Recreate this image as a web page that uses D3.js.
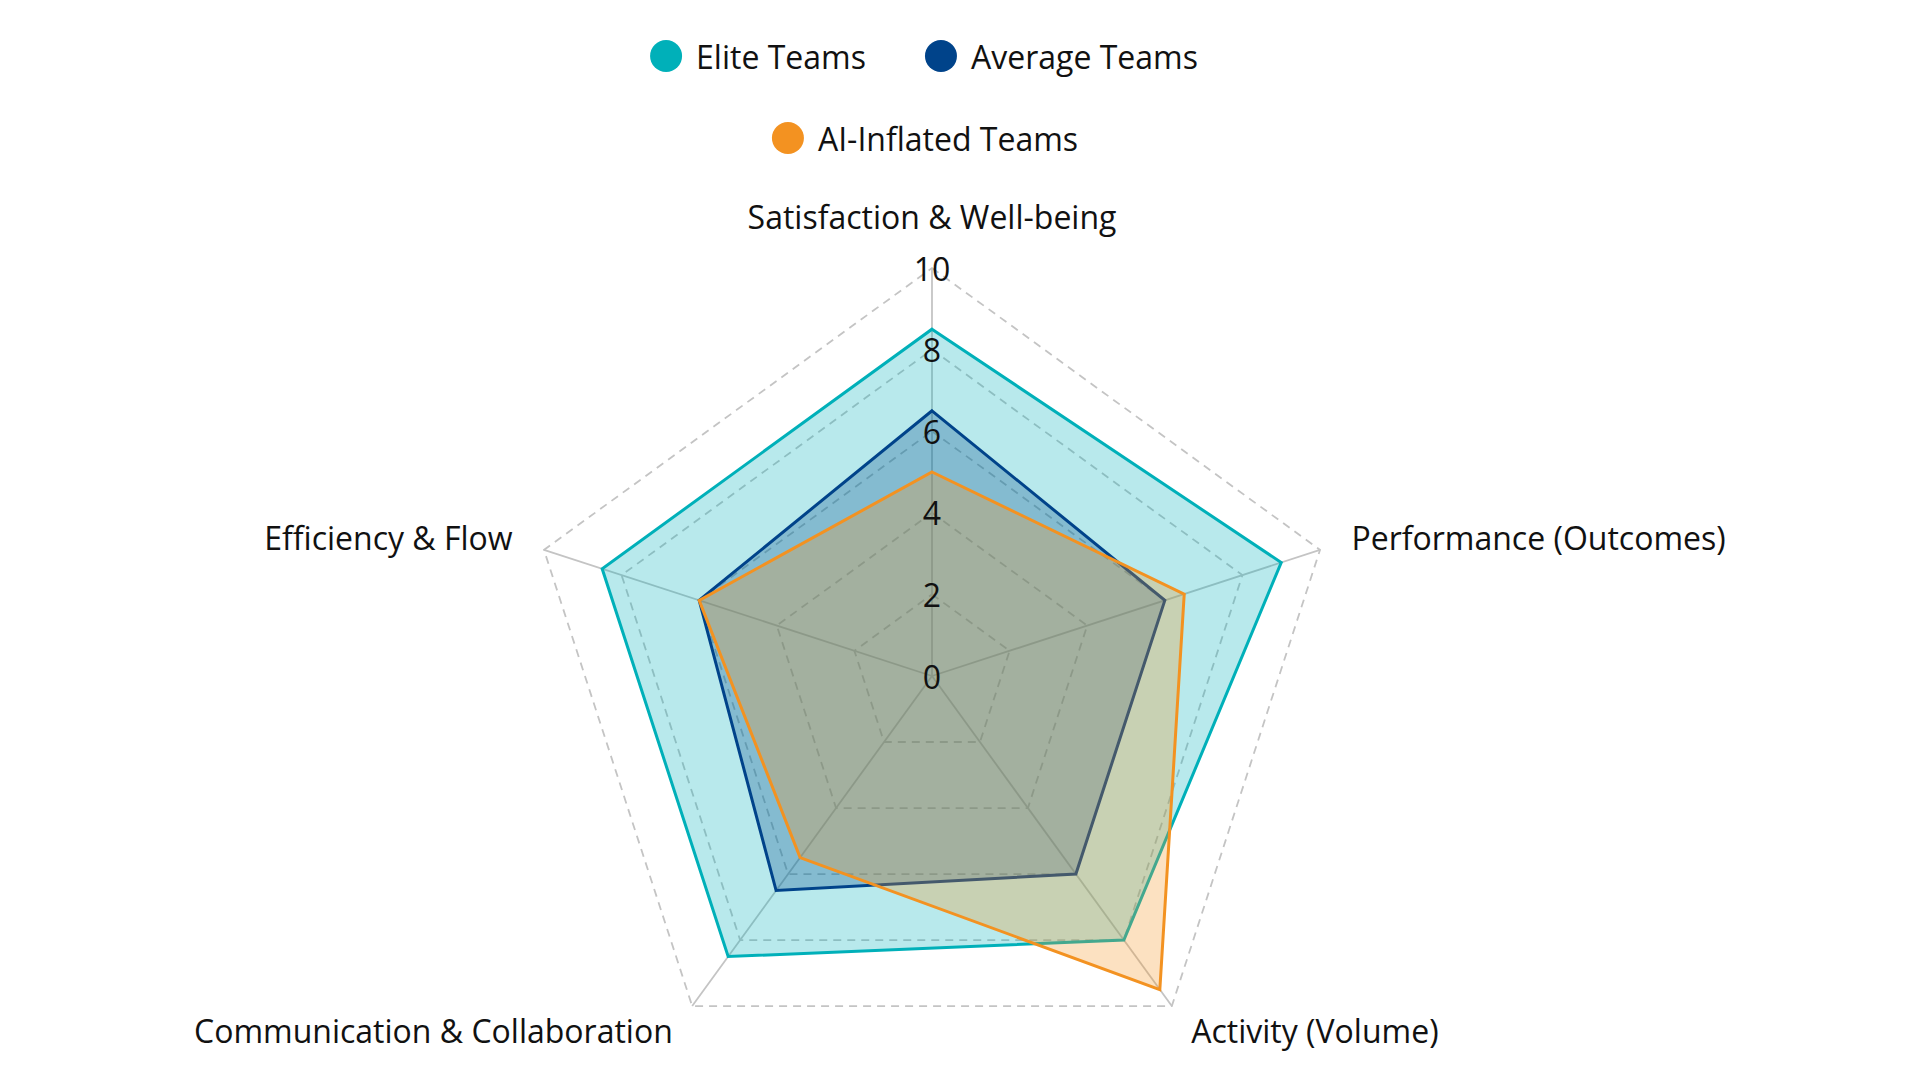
<!DOCTYPE html>
<html>
<head>
<meta charset="utf-8">
<script src="https://cdn.jsdelivr.net/npm/d3@7"></script>
<style>
  html, body { margin: 0; padding: 0; background: #fff; }
  #chart { width: 1920px; height: 1080px; }
  text { font-family: "Open Sans", "Noto Sans", sans-serif; fill: #111; }
</style>
</head>
<body>
<div id="chart"></div>
<script>
// axes, clockwise from the top
const axes = [
  "Satisfaction & Well-being",
  "Performance (Outcomes)",
  "Activity (Volume)",
  "Communication & Collaboration",
  "Efficiency & Flow",
];
const seriesNames = ["Elite Teams", "Average Teams", "AI-Inflated Teams"];
const eliteValues = [8.5, 9.0, 8.0, 8.5, 8.5];
const averageValues = [6.5, 6.0, 6.0, 6.5, 6.0];
const inflatedValues = [5.0, 6.5, 9.5, 5.5, 6.0];
const tickValues = [0, 2, 4, 6, 8, 10];
const seriesColors = ["#00b0b9", "#00438a", "#f39221"];

class RadarChart {
  constructor(_config) {
    this.config = {
      parentElement: _config.parentElement,
      containerWidth: 1920,
      containerHeight: 1080,
      cx: 932,
      cy: 676,
      radius: 408,
      labelPadding: 33,
      fontSize: 32,
    };
    this.initVis();
  }

  initVis() {
    let vis = this;

    vis.svg = d3
      .select(vis.config.parentElement)
      .append("svg")
      .attr("width", vis.config.containerWidth)
      .attr("height", vis.config.containerHeight);

    vis.chart = vis.svg
      .append("g")
      .attr("transform", `translate(${vis.config.cx},${vis.config.cy})`);

    vis.rScale = d3.scaleLinear().domain([0, 10]).range([0, vis.config.radius]);
    vis.angleScale = d3
      .scalePoint()
      .domain(axes)
      .range([0, 2 * Math.PI * (axes.length - 1) / axes.length]);

    vis.colorScale = d3.scaleOrdinal().domain(seriesNames).range(seriesColors);

    vis.line = d3
      .lineRadial()
      .angle((d, i) => vis.angleScale(axes[i]))
      .radius((d) => vis.rScale(d))
      .curve(d3.curveLinearClosed);
  }

  updateVis() {
    let vis = this;
    vis.series = [
      { name: seriesNames[0], values: eliteValues },
      { name: seriesNames[1], values: averageValues },
      { name: seriesNames[2], values: inflatedValues },
    ];
    vis.renderVis();
  }

  point(angle, r) {
    return [r * Math.sin(angle), -r * Math.cos(angle)];
  }

  renderVis() {
    let vis = this;
    const fs = vis.config.fontSize;

    // grid rings (dashed)
    vis.chart
      .selectAll(".ring")
      .data(tickValues.filter((d) => d > 0))
      .join("path")
      .attr("class", "ring")
      .attr("d", (t) => vis.line(axes.map(() => t)))
      .attr("fill", "none")
      .attr("stroke", "#c4c4c4")
      .attr("stroke-width", 1.8)
      .attr("stroke-dasharray", "8,6");

    // spokes
    vis.chart
      .selectAll(".spoke")
      .data(axes)
      .join("line")
      .attr("class", "spoke")
      .attr("x1", 0)
      .attr("y1", 0)
      .attr("x2", (d) => vis.point(vis.angleScale(d), vis.rScale(10))[0])
      .attr("y2", (d) => vis.point(vis.angleScale(d), vis.rScale(10))[1])
      .attr("stroke", "#c4c4c4")
      .attr("stroke-width", 1.8);

    // datasets
    vis.chart
      .selectAll(".area")
      .data(vis.series)
      .join("path")
      .attr("class", "area")
      .attr("d", (d) => vis.line(d.values))
      .attr("fill", (d) => vis.colorScale(d.name))
      .attr("fill-opacity", 0.28)
      .attr("stroke", (d) => vis.colorScale(d.name))
      .attr("stroke-width", 3)
      .attr("stroke-linejoin", "miter");

    // tick labels along the top spoke
    vis.chart
      .selectAll(".tick-label")
      .data(tickValues)
      .join("text")
      .attr("class", "tick-label")
      .attr("x", 0)
      .attr("y", (d) => -vis.rScale(d))
      .attr("text-anchor", "middle")
      .attr("dominant-baseline", "central")
      .style("font-size", fs + "px")
      .text((d) => d);

    // axis labels
    vis.chart
      .selectAll(".axis-label")
      .data(axes)
      .join("text")
      .attr("class", "axis-label")
      .each(function (d) {
        const a = vis.angleScale(d);
        const [x, y] = vis.point(a, vis.rScale(10) + vis.config.labelPadding);
        const s = Math.sin(a);
        const anchor = Math.abs(s) < 1e-6 ? "middle" : s > 0 ? "start" : "end";
        const top = Math.abs(s) < 1e-6 && Math.cos(a) > 0;
        d3.select(this)
          .attr("x", x)
          .attr("y", top ? y - fs / 2 - 3 : y - 2)
          .attr("text-anchor", anchor)
          .attr("dominant-baseline", "central");
      })
      .style("font-size", fs + "px")
      .text((d) => d);

    // legend, wrapped rows centred over the chart
    const legend = vis.svg.append("g").attr("class", "legend");
    const dotR = 16,
      dotGap = 14,
      itemGap = 59,
      maxRow = 640,
      rowY = [56, 138],
      rowShift = [-8, -7];

    const items = seriesNames.map((name) => {
      const g = legend.append("g");
      g.append("circle").attr("r", dotR).attr("fill", vis.colorScale(name));
      const t = g
        .append("text")
        .attr("x", dotR + dotGap)
        .attr("dominant-baseline", "central")
        .style("font-size", fs + "px")
        .text(name);
      return { g, w: dotR * 2 + dotGap + t.node().getComputedTextLength() };
    });

    let rows = [[]],
      rowW = 0;
    items.forEach((it) => {
      const add = rows[rows.length - 1].length ? itemGap + it.w : it.w;
      if (rowW + add > maxRow && rows[rows.length - 1].length) {
        rows.push([it]);
        rowW = it.w;
      } else {
        rows[rows.length - 1].push(it);
        rowW += add;
      }
    });

    rows.forEach((row, ri) => {
      const total = d3.sum(row, (d) => d.w) + itemGap * (row.length - 1);
      let x = vis.config.cx - total / 2 + (rowShift[ri] || 0);
      row.forEach((it) => {
        it.g.attr("transform", `translate(${x + dotR},${rowY[ri]})`);
        x += it.w + itemGap;
      });
    });
  }
}

const radar = new RadarChart({ parentElement: "#chart" });
radar.updateVis();
</script>
</body>
</html>
